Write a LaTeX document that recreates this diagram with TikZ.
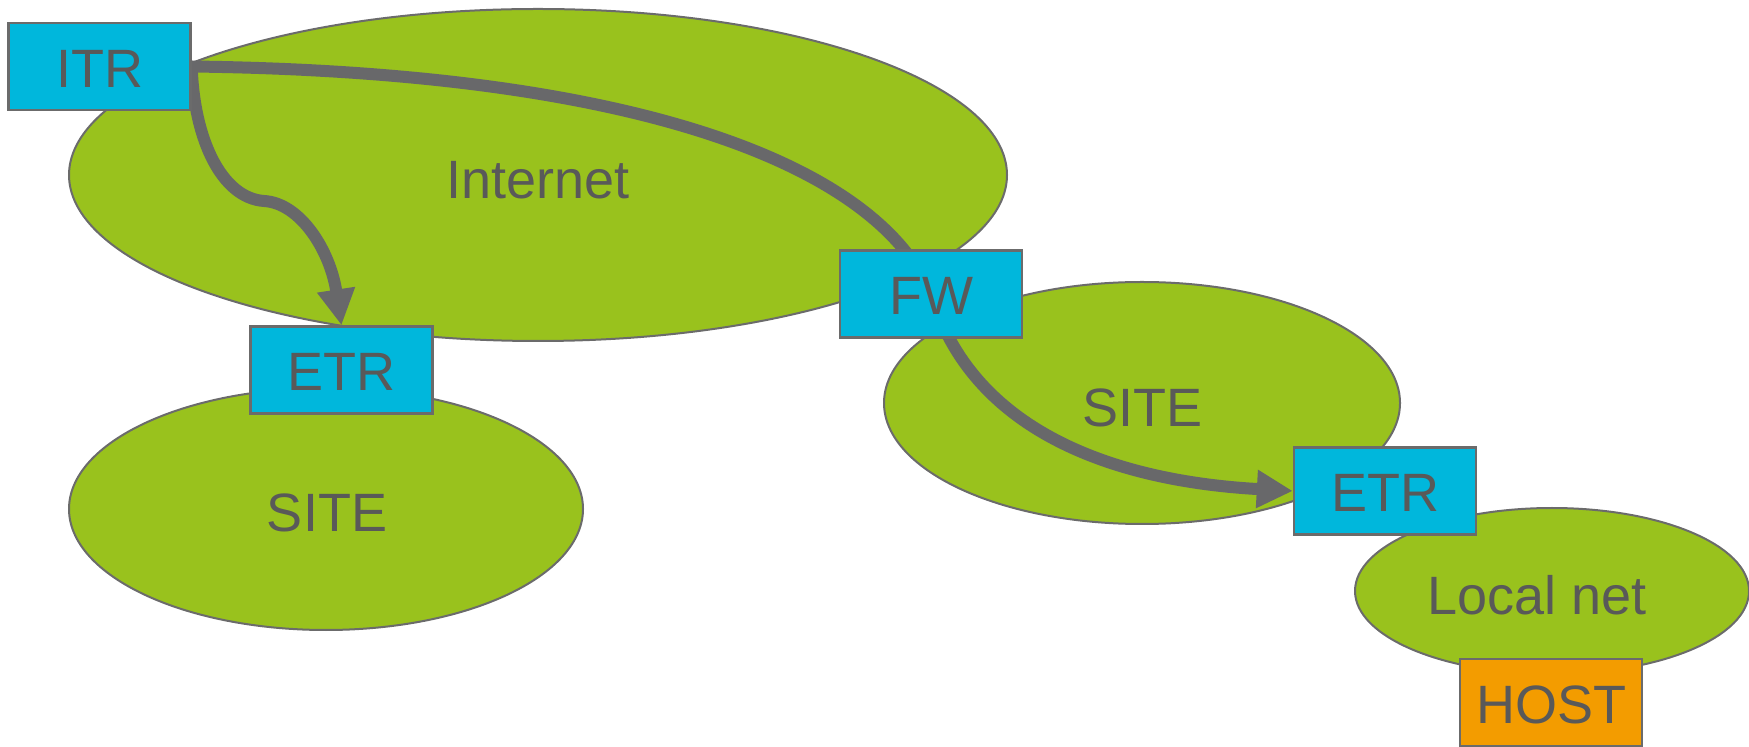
\documentclass[tikz,border=0pt]{standalone}
\usepackage{fontspec}
\setmainfont{Liberation Sans}
\usetikzlibrary{shapes.geometric,arrows.meta}
\pgfdeclarelayer{bg}
\pgfdeclarelayer{mid}
\pgfsetlayers{bg,mid,main}
\definecolor{leaf}{HTML}{99C21D}
\definecolor{cyanbox}{HTML}{00B7DC}
\definecolor{hostbox}{HTML}{F39C00}
\definecolor{edge}{HTML}{6B6B6B}
\definecolor{txt}{HTML}{595959}
\definecolor{flow}{HTML}{68686A}
\tikzset{
  net/.style={ellipse, draw=edge, line width=1pt, fill=leaf, inner sep=0pt, text=txt,
    font=\fontsize{27}{30}\selectfont},
  router/.style={rectangle, draw=edge, line width=1.2pt, fill=cyanbox, inner sep=0pt,
    minimum width=91pt, minimum height=43.5pt, text=txt, font=\fontsize{27}{30}\selectfont,
    text height=21pt, text depth=0pt},
  hostnode/.style={router, fill=hostbox},
  lbl/.style={text=txt, inner sep=0pt, font=\fontsize{27}{30}\selectfont},
  flowarrow/.style={draw=flow, line width=6pt, -{Triangle[length=18pt,width=18pt]}},
  flowline/.style={draw=flow, line width=6pt}
}
\begin{document}
\begin{tikzpicture}[x=0.5pt,y=-0.5pt]
\useasboundingbox (0,0) rectangle (1749,747);
\begin{pgfonlayer}{bg}
\node[net, minimum width=469pt, minimum height=166pt] (inet) at (538,175) {};
\node[net, minimum width=257pt, minimum height=121pt] (site1) at (326,509) {};
\node[net, minimum width=258pt, minimum height=121pt] (site2) at (1142,403) {};
\node[net, minimum width=197pt, minimum height=83pt] (local) at (1552,591) {};
\node[lbl] (inetlbl) at (538,180) {Internet};
\node[lbl] (site1lbl) at (327,513) {SITE};
\node[lbl] (site2lbl) at (1142,408) {SITE};
\node[lbl] (locallbl) at (1537,595) {Local net};
\end{pgfonlayer}
\node[router] (itr) at (99.5,66.5) {ITR};
\node[router] (etr1) at (341.5,370) {ETR};
\node[router] (fw) at (931,294) {FW};
\node[router] (etr2) at (1385,491) {ETR};
\node[hostnode] (host) at (1551,702.5) {HOST};
\begin{pgfonlayer}{mid}
\draw[flowarrow] (itr.east) .. controls (194,140) and (222,198) .. (264,201)
  .. controls (300,203) and (330,250) .. (etr1.north);
\draw[flowline] (itr.east) .. controls (650,72) and (880,170) .. (fw.center);
\draw[flowarrow] (fw.center) .. controls (975,440) and (1130,482) .. (etr2.west);
\end{pgfonlayer}
\end{tikzpicture}
\end{document}
